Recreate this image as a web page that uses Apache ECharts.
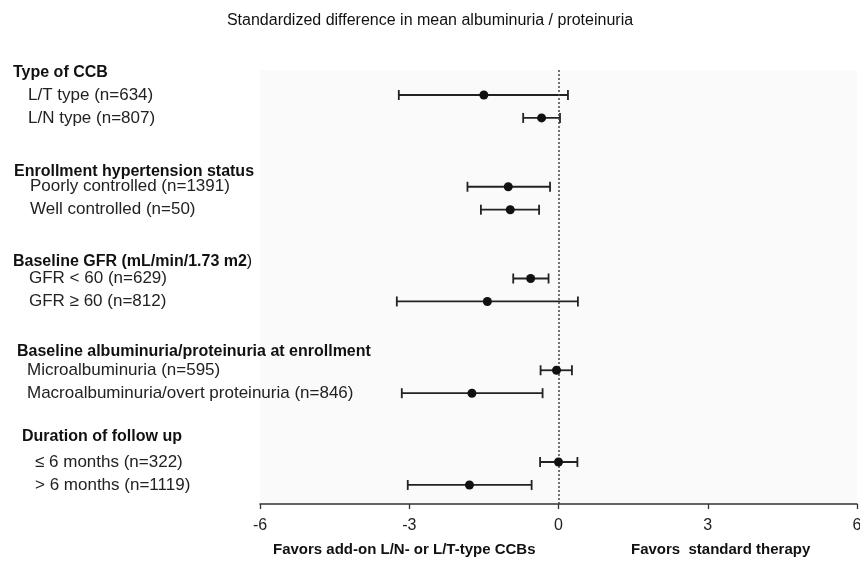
<!DOCTYPE html>
<html>
<head>
<meta charset="utf-8">
<script src="https://cdn.jsdelivr.net/npm/echarts@6/dist/echarts.min.js"></script>
<style>
html,body{margin:0;padding:0;background:#fff;}
#chart{width:860px;height:564px;}
</style>
</head>
<body>
<div id="chart"></div>
<script>
// ---- data ----
const titleText = 'Standardized difference in mean albuminuria / proteinuria';
const groupLabels = ['Type of CCB', 'Enrollment hypertension status', 'Baseline GFR (mL/min/1.73 m2)', 'Baseline albuminuria/proteinuria at enrollment', 'Duration of follow up'];
const subgroupLabels = ['L/T type (n=634)', 'L/N type (n=807)', 'Poorly controlled (n=1391)', 'Well controlled (n=50)', 'GFR < 60 (n=629)', 'GFR \u2265 60 (n=812)', 'Microalbuminuria (n=595)', 'Macroalbuminuria/overt proteinuria (n=846)', '\u2264 6 months (n=322)', '> 6 months (n=1119)'];
const estimates = [-1.50, -0.34, -1.01, -0.97, -0.56, -1.43, -0.04, -1.74, 0.00, -1.79];
const lowerCI  = [-3.21, -0.71, -1.83, -1.56, -0.91, -3.25, -0.36, -3.15, -0.37, -3.03];
const upperCI  = [ 0.19,  0.03, -0.17, -0.39, -0.20,  0.39,  0.27, -0.32,  0.38, -0.54];
const xTicks = [-6, -3, 0, 3, 6];
const leftAxisTitle = 'Favors add-on L/N- or L/T-type CCBs';
const rightAxisTitle = 'Favors  standard therapy';

// ---- layout (row slots on the vertical scale, label indents) ----
const subgroupRows = [0, 1, 4, 5, 8, 9, 12, 13, 16, 17];
const groupRows = [-0.96, 3.36, 7.28, 11.19, 14.9];
const groupX = [13, 14, 13, 17, 22];
const subgroupX = [28, 28, 30, 30, 29, 29, 27, 27, 35, 35];
const FONT = '"Liberation Sans", Arial, Helvetica, sans-serif';

const chart = echarts.init(document.getElementById('chart'), null, {renderer: 'canvas'});

const labelData = [];
groupLabels.forEach((t, i) => labelData.push({value: [-6, groupRows[i]], kind: 'group', idx: i}));
subgroupLabels.forEach((t, i) => labelData.push({value: [-6, subgroupRows[i]], kind: 'sub', idx: i}));

function groupText(t) {
  // last closing parenthesis of the GFR header is drawn in regular weight
  if (t.endsWith(')') && t.indexOf('GFR') >= 0) {
    return '{b|' + t.slice(0, -1) + '}{n|)}';
  }
  return '{b|' + t + '}';
}

const option = {
  animation: false,
  backgroundColor: '#ffffff',
  title: {
    text: titleText,
    left: 'center',
    top: 8,
    textStyle: {fontFamily: FONT, fontSize: 16, fontWeight: 'normal', color: '#111'}
  },
  grid: {
    left: 260, right: 3, top: 70, bottom: 60,
    outerBoundsMode: 'none', containLabel: false,
    show: true, backgroundColor: '#fafafa', borderWidth: 0
  },
  xAxis: {
    type: 'value', min: xTicks[0], max: xTicks[xTicks.length - 1], interval: 3,
    axisLine: {show: true, onZero: false, lineStyle: {color: '#333', width: 1.5}},
    axisTick: {show: true, length: 5, lineStyle: {color: '#333', width: 1.3}},
    axisLabel: {fontFamily: FONT, fontSize: 16, color: '#222', margin: 14},
    splitLine: {show: false}
  },
  yAxis: {
    type: 'value', inverse: true, min: -1.09, max: 17.83,
    show: false, splitLine: {show: false}
  },
  graphic: [
    {type: 'text', left: 273, top: 542, style: {text: leftAxisTitle, font: 'bold 15px ' + FONT, fill: '#111'}},
    {type: 'text', left: 631, top: 542, style: {text: rightAxisTitle, font: 'bold 15px ' + FONT, fill: '#111'}}
  ],
  series: [
    {
      type: 'custom',
      name: 'ci',
      data: lowerCI.map((lo, i) => [lo, upperCI[i], subgroupRows[i]]),
      encode: {x: [0, 1], y: 2},
      renderItem: function (params, api) {
        const p1 = api.coord([api.value(0), api.value(2)]);
        const p2 = api.coord([api.value(1), api.value(2)]);
        const h = 5;
        const st = {stroke: '#222', lineWidth: 1.8};
        return {
          type: 'group',
          children: [
            {type: 'line', shape: {x1: p1[0], y1: p1[1], x2: p2[0], y2: p2[1]}, style: st},
            {type: 'line', shape: {x1: p1[0], y1: p1[1] - h, x2: p1[0], y2: p1[1] + h}, style: st},
            {type: 'line', shape: {x1: p2[0], y1: p2[1] - h, x2: p2[0], y2: p2[1] + h}, style: st}
          ]
        };
      },
      markLine: {
        silent: true, symbol: 'none', label: {show: false},
        lineStyle: {color: '#444', type: [2, 2], width: 1.5},
        data: [{xAxis: 0}]
      },
      z: 3
    },
    {
      type: 'scatter',
      name: 'estimate',
      data: estimates.map((v, i) => [v, subgroupRows[i]]),
      symbol: 'circle',
      symbolSize: 9,
      itemStyle: {color: '#111', opacity: 1},
      z: 5
    },
    {
      type: 'custom',
      name: 'labels',
      data: labelData,
      clip: false,
      silent: true,
      renderItem: function (params, api) {
        const d = labelData[params.dataIndex];
        const y = api.coord([api.value(0), api.value(1)])[1];
        if (d.kind === 'group') {
          return {
            type: 'text',
            x: groupX[d.idx], y: y,
            style: {
              text: groupText(groupLabels[d.idx]),
              verticalAlign: 'middle', align: 'left',
              rich: {
                b: {fontFamily: FONT, fontSize: 16, fontWeight: 'bold', fill: '#111', color: '#111'},
                n: {fontFamily: FONT, fontSize: 16, fontWeight: 'normal', fill: '#111', color: '#111'}
              }
            }
          };
        }
        return {
          type: 'text',
          x: subgroupX[d.idx], y: y,
          style: {
            text: subgroupLabels[d.idx],
            font: '17px ' + FONT,
            fill: '#222',
            verticalAlign: 'middle', align: 'left'
          }
        };
      }
    }
  ]
};
chart.setOption(option);
</script>
</body>
</html>
